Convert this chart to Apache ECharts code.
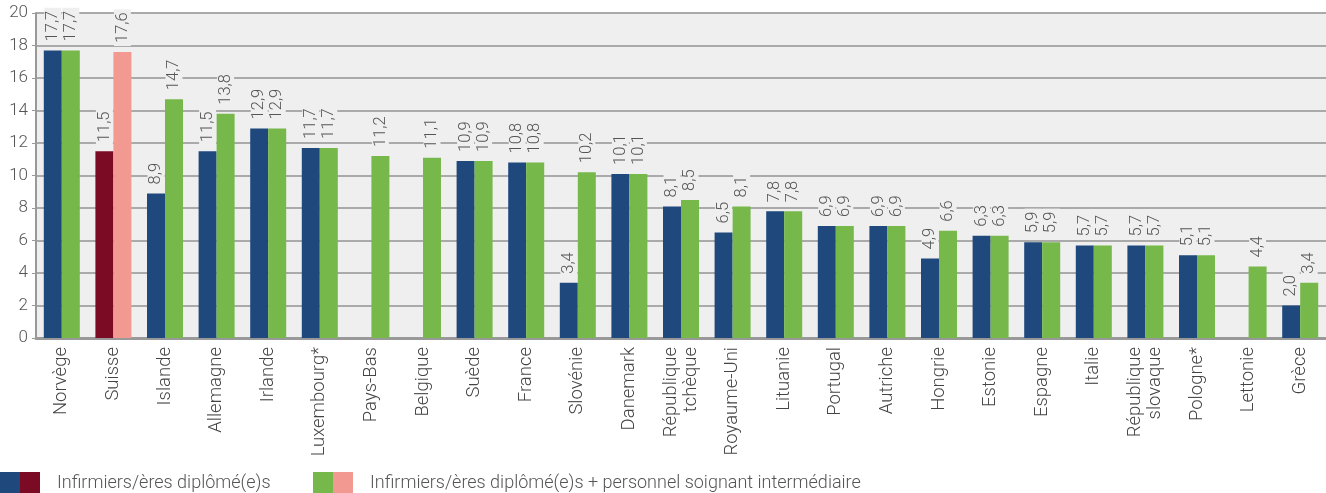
<!DOCTYPE html>
<html><head><meta charset="utf-8">
<script src="https://cdn.jsdelivr.net/npm/echarts@6/dist/echarts.min.js"></script>
<style>html,body{margin:0;padding:0;background:#fff}#c{width:1326px;height:493px}</style>
</head><body><div id="c"></div>
<script>
const categories = ['Norvège','Suisse','Islande','Allemagne','Irlande','Luxembourg*','Pays-Bas','Belgique','Suède','France','Slovénie','Danemark','République\ntchèque','Royaume-Uni','Lituanie','Portugal','Autriche','Hongrie','Estonie','Espagne','Italie','République\nslovaque','Pologne*','Lettonie','Grèce'];
const nursesQualified = [17.7,11.5,8.9,11.5,12.9,11.7,null,null,10.9,10.8,3.4,10.1,8.1,6.5,7.8,6.9,6.9,4.9,6.3,5.9,5.7,5.7,5.1,null,2.0];
const nursesPlusIntermediate = [17.7,17.6,14.7,13.8,12.9,11.7,11.2,11.1,10.9,10.8,10.2,10.1,8.5,8.1,7.8,6.9,6.9,6.6,6.3,5.9,5.7,5.7,5.1,4.4,3.4];
const yTicks = [0,2,4,6,8,10,12,14,16,18,20];
const legendLabels = ['Infirmiers/ères diplômé(e)s','Infirmiers/ères diplômé(e)s + personnel soignant intermédiaire'];
const highlight = 'Suisse';

const colors = {a:'#1f497d', aH:'#7b0a24', b:'#76b84a', bH:'#f29a92'};
const font = 'Roboto';
const fw = 300;
function mk(vals, c, cH){
  return vals.map((v,i)=> v==null ? null : {value:v, itemStyle:{color: categories[i]===highlight ? cH : c}});
}
const lbl = {show:true, position:'top', rotate:90, align:'left', verticalAlign:'middle', distance:6,
  fontFamily:font, fontWeight:fw, fontSize:16.5, color:'#555', backgroundColor:'#efefef', padding:[0,3,0,3],
  formatter:p=>p.value.toFixed(1).replace('.',',')};
const chart = echarts.init(document.getElementById('c'));
chart.setOption({
  animation:false,
  grid:{left:36,right:0,top:13,bottom:155,show:true,backgroundColor:'#efefef',borderWidth:0,containLabel:false},
  xAxis:{type:'category',data:categories,
    axisLine:{lineStyle:{color:'#999',width:3}},axisTick:{show:false},
    axisLabel:{rotate:90,interval:0,fontFamily:font,fontWeight:fw,fontSize:18.5,color:'#444',margin:9,lineHeight:20}},
  yAxis:{type:'value',min:0,max:20,interval:2,
    axisLine:{show:true,lineStyle:{color:'#999',width:2}},
    axisTick:{show:true,length:4,lineStyle:{color:'#999'}},
    splitLine:{lineStyle:{color:'#aaa',width:2}},
    axisLabel:{fontFamily:font,fontWeight:fw,fontSize:17,color:'#555',margin:8,formatter:v=>yTicks.includes(v)?String(v):''}},
  series:[
    {type:'bar',name:legendLabels[0],data:mk(nursesQualified,colors.a,colors.aH),barWidth:18,barGap:'0%',label:lbl},
    {type:'bar',name:legendLabels[1],data:mk(nursesPlusIntermediate,colors.b,colors.bH),barWidth:18,barGap:'0%',label:lbl}
  ],
  graphic:[
    {type:'rect',shape:{x:0,y:472,width:20,height:21},style:{fill:colors.a}},
    {type:'rect',shape:{x:20,y:472,width:20,height:21},style:{fill:colors.aH}},
    {type:'text',x:57,y:483,style:{text:legendLabels[0],fontFamily:font,fontWeight:fw,fontSize:18,fill:'#555',verticalAlign:'middle'}},
    {type:'rect',shape:{x:313,y:472,width:20,height:21},style:{fill:colors.b}},
    {type:'rect',shape:{x:333,y:472,width:20,height:21},style:{fill:colors.bH}},
    {type:'text',x:370,y:483,style:{text:legendLabels[1],fontFamily:font,fontWeight:fw,fontSize:18,fill:'#555',verticalAlign:'middle'}}
  ]
});
</script></body></html>
